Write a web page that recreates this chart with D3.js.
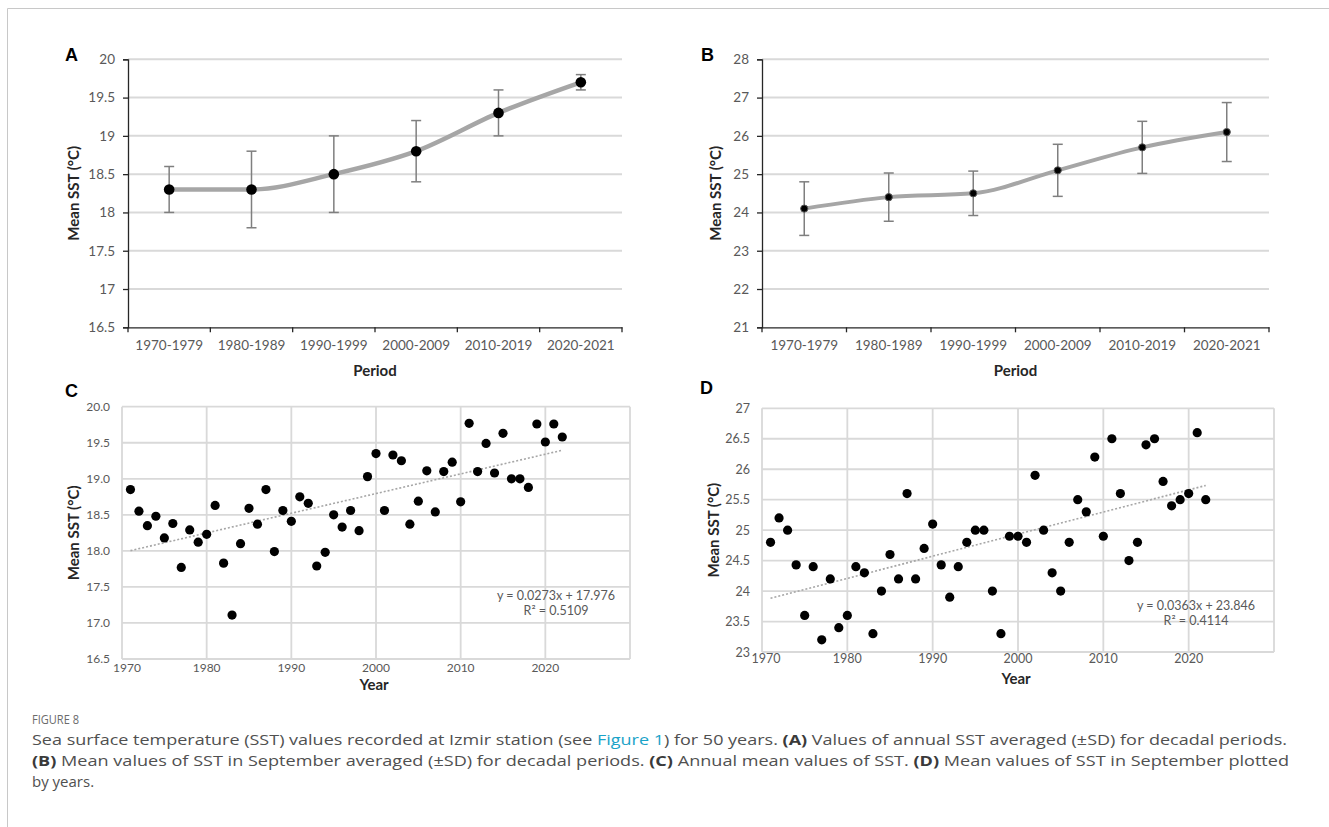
<!DOCTYPE html>
<html><head><meta charset="utf-8">
<script src="https://cdn.jsdelivr.net/npm/d3@7"></script>
<style>
html,body{margin:0;padding:0;background:#fff;}
svg{display:block;}
</style></head>
<body>
<svg id="chart" width="1329" height="827"></svg>
<script>
// ---------- DATA ----------
const periods = ["1970-1979","1980-1989","1990-1999","2000-2009","2010-2019","2020-2021"];
const annualMean = [18.3, 18.3, 18.5, 18.8, 19.3, 19.7];
const annualSD   = [0.3, 0.5, 0.5, 0.4, 0.3, 0.1];
const septMean   = [24.1, 24.4, 24.5, 25.1, 25.7, 26.1];
const septSD     = [0.7, 0.63, 0.58, 0.68, 0.68, 0.77];

const years = [1971,1972,1973,1974,1975,1976,1977,1978,1979,1980,
               1981,1982,1983,1984,1985,1986,1987,1988,1989,1990,
               1991,1992,1993,1994,1995,1996,1997,1998,1999,2000,
               2001,2002,2003,2004,2005,2006,2007,2008,2009,2010,
               2011,2012,2013,2014,2015,2016,2017,2018,2019,2020,
               2021,2022];
const annualSST = [18.85,18.55,18.35,18.48,18.18,18.38,17.77,18.29,18.12,18.23,
                   18.63,17.83,17.11,18.10,18.59,18.37,18.85,17.99,18.56,18.41,
                   18.75,18.66,17.79,17.98,18.50,18.33,18.56,18.28,19.03,19.35,
                   18.56,19.33,19.25,18.37,18.69,19.11,18.54,19.10,19.23,18.68,
                   19.77,19.10,19.49,19.08,19.63,19.00,19.00,18.88,19.76,19.51,
                   19.76,19.58];
const septSST = [24.8,25.2,25.0,24.43,23.6,24.4,23.2,24.2,23.4,23.6,
                 24.4,24.3,23.3,24.0,24.6,24.2,25.6,24.2,24.7,25.1,
                 24.43,23.9,24.4,24.8,25.0,25.0,24.0,23.3,24.9,24.9,
                 24.8,25.9,25.0,24.3,24.0,24.8,25.5,25.3,26.2,24.9,
                 26.5,25.6,24.5,24.8,26.4,26.5,25.8,25.4,25.5,25.6,
                 26.6,25.5];

const trendC = {slope: 0.0273, intercept: 17.976, r2: "0.5109"};
const trendD = {slope: 0.0363, intercept: 23.846, r2: "0.4114"};

const ticksA = [16.5,17,17.5,18,18.5,19,19.5,20];
const ticksB = [21,22,23,24,25,26,27,28];
const ticksC = [16.5,17,17.5,18,18.5,19,19.5,20];
const ticksD = [23,23.5,24,24.5,25,25.5,26,26.5,27];
const yearTicks = [1970,1980,1990,2000,2010,2020,2030];
const yearLabels = [1970,1980,1990,2000,2010,2020];

// ---------- DRAW ----------
const svg = d3.select("#chart");
const FONT = "Lato, 'Open Sans', sans-serif";
const TICKCOL = "#595959";
const GRID = "#d9d9d9";

// frame
svg.append("line").attr("x1",7.5).attr("x2",1329).attr("y1",8.5).attr("y2",8.5).attr("stroke","#c8c8c8");
svg.append("line").attr("x1",7.5).attr("x2",7.5).attr("y1",8.5).attr("y2",827).attr("stroke","#c8c8c8");

function panelLetter(t,x,y){
  svg.append("text").attr("x",x).attr("y",y).text(t)
    .attr("font-family","'Liberation Sans', Arial, sans-serif").attr("font-weight","bold")
    .attr("font-size",18).attr("fill","#000");
}

function linePanel(opts){
  const {x0,x1,y0,y1,dom,ticks,fmt,means,sds,r,lx} = opts;
  const g = svg.append("g");
  const x = d3.scaleBand().domain(periods).range([x0,x1]);
  const y = d3.scaleLinear().domain(dom).range([y1,y0]);
  // grid
  g.append("g").selectAll("line").data(ticks.slice(1)).join("line")
    .attr("x1",x0).attr("x2",x1).attr("y1",d=>y(d)).attr("y2",d=>y(d))
    .attr("stroke",GRID).attr("stroke-width",2);
  // left axis
  const ya = g.append("g").attr("transform",`translate(${x0},0)`)
    .call(d3.axisLeft(y).tickValues(ticks).tickFormat(fmt).tickSize(5).tickPadding(8));
  ya.select(".domain").attr("stroke","#262626").attr("stroke-width",1.3);
  ya.selectAll(".tick line").attr("stroke","#262626").attr("stroke-width",1.3);
  ya.selectAll("text").attr("font-family",FONT).attr("font-size",13.5).attr("fill",TICKCOL);
  // bottom axis
  const xa = g.append("g").attr("transform",`translate(0,${y1})`)
    .call(d3.axisBottom(x).tickSize(0).tickPadding(13));
  xa.select(".domain").attr("stroke","#262626").attr("stroke-width",1.3);
  xa.selectAll("text").attr("font-family",FONT).attr("font-size",13.5).attr("fill",TICKCOL);
  g.append("g").selectAll("line").data(periods.map(p=>x(p)).concat([x1])).join("line")
    .attr("x1",d=>d).attr("x2",d=>d).attr("y1",y1).attr("y2",y1+5)
    .attr("stroke","#262626").attr("stroke-width",1.3);
  const cx = i => x(periods[i]) + x.bandwidth()/2;
  // line
  const line = d3.line().x((d,i)=>cx(i)).y(d=>y(d)).curve(d3.curveMonotoneX);
  g.append("path").datum(means).attr("d",line).attr("fill","none")
    .attr("stroke","#a6a6a6").attr("stroke-width",opts.lw).attr("stroke-linejoin","round");
  // error bars
  const eb = g.append("g").attr("stroke","#7f7f7f").attr("stroke-width",1.5);
  means.forEach((m,i)=>{
    eb.append("line").attr("x1",cx(i)).attr("x2",cx(i)).attr("y1",y(m-sds[i])).attr("y2",y(m+sds[i]));
    eb.append("line").attr("x1",cx(i)-5).attr("x2",cx(i)+5).attr("y1",y(m-sds[i])).attr("y2",y(m-sds[i]));
    eb.append("line").attr("x1",cx(i)-5).attr("x2",cx(i)+5).attr("y1",y(m+sds[i])).attr("y2",y(m+sds[i]));
  });
  g.append("g").selectAll("circle").data(means).join("circle")
    .attr("cx",(d,i)=>cx(i)).attr("cy",d=>y(d)).attr("r",r).attr("fill","#000")
    .attr("stroke",opts.mstroke||"none").attr("stroke-width",1);
  // titles
  g.append("text").attr("transform",`translate(${lx},${(y0+y1)/2}) rotate(-90)`)
    .attr("text-anchor","middle").attr("dy","0.35em").text("Mean SST (°C)")
    .attr("font-family",FONT).attr("font-weight","bold").attr("font-size",15).attr("fill","#262626");
  g.append("text").attr("x",(x0+x1)/2).attr("y",376).attr("text-anchor","middle").text("Period")
    .attr("font-family",FONT).attr("font-weight","bold").attr("font-size",15).attr("fill","#262626");
}

function scatterPanel(opts){
  const {x0,x1,y0,y1,dom,ticks,fmt,vals,trend,lx,yearY,eqX,eqY,firstDx,labBase,fs} = opts;
  const g = svg.append("g");
  const x = d3.scaleLinear().domain([1970,2030]).range([x0,x1]);
  const y = d3.scaleLinear().domain(dom).range([y1,y0]);
  // grid
  g.append("g").selectAll("line").data(ticks).join("line")
    .attr("x1",x0).attr("x2",x1).attr("y1",d=>y(d)).attr("y2",d=>y(d))
    .attr("stroke",GRID).attr("stroke-width",1.8);
  g.append("g").selectAll("line").data(yearTicks).join("line")
    .attr("x1",d=>x(d)).attr("x2",d=>x(d)).attr("y1",y0).attr("y2",y1)
    .attr("stroke",GRID).attr("stroke-width",1.8);
  // y tick labels
  const ya = g.append("g").attr("transform",`translate(${x0},0)`)
    .call(d3.axisLeft(y).tickValues(ticks).tickFormat(fmt).tickSize(0).tickPadding(12));
  ya.select(".domain").remove();
  ya.selectAll("text").attr("font-family",FONT).attr("font-size",fs).attr("fill",TICKCOL);
  // x tick labels
  g.append("g").selectAll("text").data(yearLabels).join("text")
    .attr("x",(d,i)=>x(d)+(i===0?firstDx:0)).attr("y",y1+labBase).attr("text-anchor","middle")
    .text(d=>d).attr("font-family",FONT).attr("font-size",fs).attr("fill",TICKCOL);
  // trend line
  const tl = [years[0], years[years.length-1]];
  g.append("line")
    .attr("x1",x(tl[0])).attr("y1",y(trend.intercept+trend.slope*(tl[0]-1970)))
    .attr("x2",x(tl[1])).attr("y2",y(trend.intercept+trend.slope*(tl[1]-1970)))
    .attr("stroke","#a6a6a6").attr("stroke-width",1.6).attr("stroke-dasharray","2,2");
  // points
  g.append("g").selectAll("circle").data(vals).join("circle")
    .attr("cx",(d,i)=>x(years[i])).attr("cy",d=>y(d)).attr("r",4.6).attr("fill","#000");
  // equation
  g.append("text").attr("x",eqX).attr("y",eqY).attr("text-anchor","middle")
    .text(`y = ${trend.slope}x + ${trend.intercept}`)
    .attr("font-family",FONT).attr("font-size",12.5).attr("fill",TICKCOL);
  g.append("text").attr("x",eqX).attr("y",eqY+15).attr("text-anchor","middle")
    .attr("font-family",FONT).attr("font-size",12.5).attr("fill",TICKCOL)
    .text(`R² = ${trend.r2}`);
  // titles
  g.append("text").attr("transform",`translate(${lx},${(y0+y1)/2}) rotate(-90)`)
    .attr("text-anchor","middle").attr("dy","0.35em").text("Mean SST (°C)")
    .attr("font-family",FONT).attr("font-weight","bold").attr("font-size",15).attr("fill","#262626");
  g.append("text").attr("x",(x0+x1)/2 - 2).attr("y",yearY).attr("text-anchor","middle").text("Year")
    .attr("font-family",FONT).attr("font-weight","bold").attr("font-size",15).attr("fill","#262626");
}

linePanel({x0:128,x1:622,y0:59.3,y1:327.3,dom:[16.5,20],ticks:ticksA,fmt:d3.format("~g"),
  means:annualMean,sds:annualSD,r:5.3,lw:4.5,lx:74});
linePanel({x0:762,x1:1269,y0:59.3,y1:327.3,dom:[21,28],ticks:ticksB,fmt:d3.format("~g"),
  means:septMean,sds:septSD,r:3.6,lw:4,lx:716,mstroke:"#555"});
scatterPanel({x0:122,x1:630,y0:406.7,y1:659,dom:[16.5,20],ticks:ticksC,fmt:d3.format(".1f"),
  vals:annualSST,trend:trendC,lx:74,yearY:690,eqX:556,eqY:600,firstDx:5,labBase:13,fs:12});
scatterPanel({x0:762,x1:1274,y0:408.3,y1:652,dom:[23,27],ticks:ticksD,fmt:d3.format("~g"),
  vals:septSST,trend:trendD,lx:714,yearY:684,eqX:1196,eqY:610,firstDx:4,labBase:11,fs:12.5});

panelLetter("A",65,61);
panelLetter("B",701,61);
panelLetter("C",65,397);
panelLetter("D",700,394);

// ---------- CAPTION ----------
const CAPF = "'Open Sans', 'Noto Sans', sans-serif";
svg.append("text").attr("x",32).attr("y",724).text("FIGURE 8")
  .attr("font-family",CAPF).attr("font-size",12).attr("fill","#6b6b6b")
  .attr("textLength",47).attr("lengthAdjust","spacingAndGlyphs");

const capLines = [
  {y:745, len:1255, parts:[
    ["Sea surface temperature (SST) values recorded at Izmir station (see ",0],
    ["Figure 1",2],
    [") for 50 years. ",0],["(A)",1],[" Values of annual SST averaged (±SD) for decadal periods.",0]]},
  {y:766, len:1257, parts:[
    ["(B)",1],[" Mean values of SST in September averaged (±SD) for decadal periods. ",0],
    ["(C)",1],[" Annual mean values of SST. ",0],["(D)",1],
    [" Mean values of SST in September plotted",0]]},
  {y:787, len:null, parts:[["by years.",0]]}
];
capLines.forEach(l=>{
  const t = svg.append("text").attr("x",32).attr("y",l.y)
    .attr("font-family",CAPF).attr("font-size",15).attr("fill","#505050").attr("xml:space","preserve");
  if(l.len) t.attr("textLength",l.len).attr("lengthAdjust","spacingAndGlyphs");
  l.parts.forEach(p=>{
    const s = t.append("tspan").text(p[0]);
    if(p[1]===1) s.attr("font-weight","bold").attr("fill","#3a3a3a");
    if(p[1]===2) s.attr("fill","#1aa3c8");
  });
});
</script>
</body></html>
